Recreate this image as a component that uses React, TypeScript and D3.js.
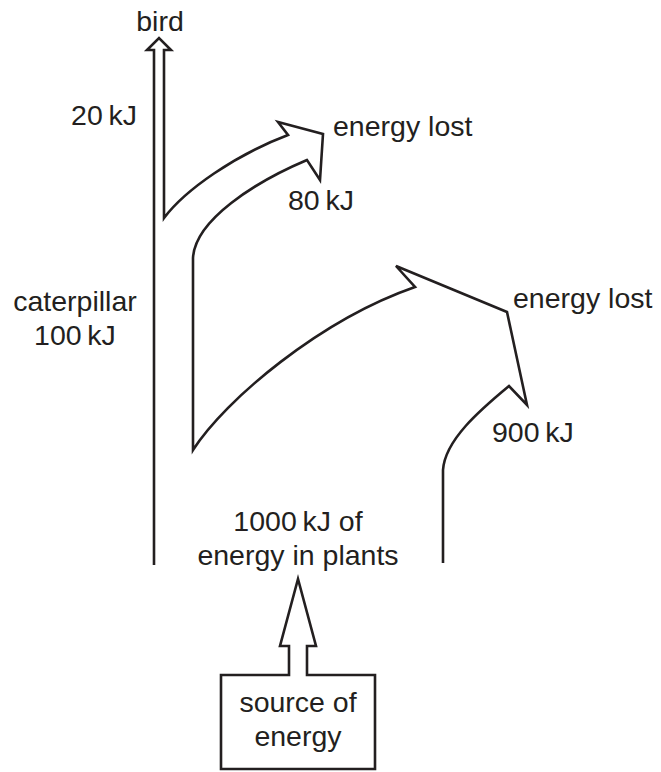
import React, { useRef, useEffect } from "react";
import * as d3 from "d3";

// energy flow through a food chain
const stages = ["source of energy", "plants", "caterpillar", "bird"];
const stageEnergy = [0, 1000, 100, 20]; // kJ
const lostEnergy = [900, 80]; // kJ lost at plants -> caterpillar, caterpillar -> bird
const unit = "kJ";

const WIDTH = 661;
const HEIGHT = 772;
const INK = "#231f20";

const kj = (v: number) => `${v}\u2009${unit}`;

const App = () => {
  const d3Ref = useRef<HTMLDivElement>(null);

  useEffect(() => {
    if (!d3Ref.current) return;
    d3.select(d3Ref.current).selectAll("*").remove();

    const svg = d3
      .select(d3Ref.current)
      .append("svg")
      .attr("width", WIDTH)
      .attr("height", HEIGHT)
      .style("position", "absolute")
      .style("left", "0px")
      .style("top", "0px")
      .style("background", "#fff");

    // main flow outline: plants -> caterpillar -> bird, with the two loss arrows
    const flow = d3.path();
    flow.moveTo(154, 565);
    flow.lineTo(154, 50);
    flow.lineTo(147, 50);
    flow.lineTo(159, 38);
    flow.lineTo(171, 50);
    flow.lineTo(164, 50);
    flow.lineTo(164, 218);
    flow.bezierCurveTo(185, 190, 235, 155, 288, 135);
    flow.lineTo(278, 122);
    flow.lineTo(323, 134);
    flow.lineTo(320, 180);
    flow.lineTo(307, 160);
    flow.bezierCurveTo(255, 182, 195, 220, 193, 258);
    flow.lineTo(193, 450);
    flow.bezierCurveTo(225, 400, 320, 320, 415, 287);
    flow.lineTo(396, 266);
    flow.lineTo(507, 312);
    flow.lineTo(527, 405);
    flow.lineTo(509, 386);
    flow.bezierCurveTo(480, 410, 445, 440, 443, 470);
    flow.lineTo(443, 563);

    svg
      .append("path")
      .attr("d", flow.toString())
      .attr("fill", "none")
      .attr("stroke", INK)
      .attr("stroke-width", 2.6)
      .attr("stroke-linejoin", "miter");

    // source box with its arrow up to the plants
    const source = d3.path();
    source.moveTo(289, 675);
    source.lineTo(289, 646);
    source.lineTo(280, 646);
    source.lineTo(298, 579);
    source.lineTo(316, 646);
    source.lineTo(307, 646);
    source.lineTo(307, 675);
    source.lineTo(375, 675);
    source.lineTo(375, 769);
    source.lineTo(221, 769);
    source.lineTo(221, 675);
    source.closePath();

    svg
      .append("path")
      .attr("d", source.toString())
      .attr("fill", "none")
      .attr("stroke", INK)
      .attr("stroke-width", 2.6);

    // labels
    const labels = [
      { lines: [stages[3]], x: 160, y: 31, anchor: "middle" },
      { lines: [kj(stageEnergy[3])], x: 137, y: 125, anchor: "end" },
      { lines: ["energy lost"], x: 333, y: 136, anchor: "start" },
      { lines: [kj(lostEnergy[1])], x: 288, y: 210, anchor: "start" },
      { lines: [stages[2], kj(stageEnergy[2])], x: 75, y: 311, anchor: "middle" },
      { lines: ["energy lost"], x: 513, y: 308, anchor: "start" },
      { lines: [kj(lostEnergy[0])], x: 492, y: 442, anchor: "start" },
      {
        lines: [`${kj(stageEnergy[1])} of`, `energy in ${stages[1]}`],
        x: 298,
        y: 531,
        anchor: "middle",
      },
      { lines: ["source of", "energy"], x: 298, y: 712, anchor: "middle" },
    ];

    const text = svg
      .selectAll(".label")
      .data(labels)
      .enter()
      .append("text")
      .attr("class", "label")
      .attr("text-anchor", (d) => d.anchor)
      .attr("font-family", "'Liberation Sans', Arial, sans-serif")
      .attr("font-size", 28.5)
      .attr("fill", INK);

    text
      .selectAll("tspan")
      .data((d) => d.lines.map((line, i) => ({ line, x: d.x, y: d.y + i * 34 })))
      .enter()
      .append("tspan")
      .attr("x", (d) => d.x)
      .attr("y", (d) => d.y)
      .text((d) => d.line);
  }, []);

  return <div ref={d3Ref} />;
};

export default App;
